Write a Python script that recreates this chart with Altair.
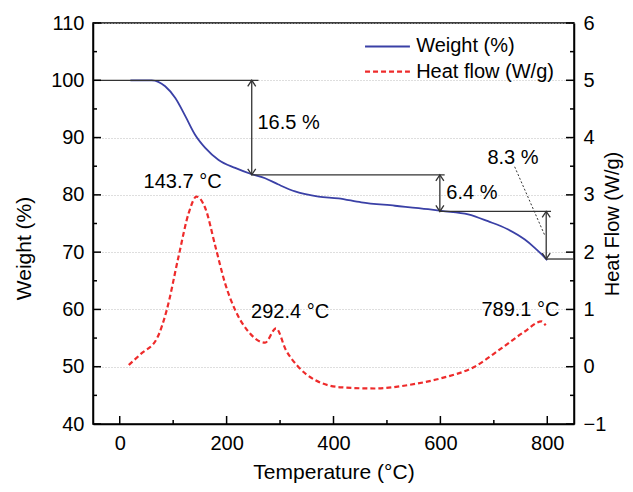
import altair as alt
import pandas as pd

# ---------------- data ----------------
w_temp = [20, 60, 85, 104, 123, 141, 160, 185, 216, 247, 272, 297, 328, 372, 409,
          452, 515, 577, 602, 652, 689, 726, 758, 776, 795, 800]
w_val = [100.0, 100.0, 98.95, 96.9, 93.7, 90.5, 88.2, 86.1, 84.7, 83.6, 82.9, 81.8,
         80.6, 79.7, 79.4, 78.7, 78.1, 77.5, 77.2, 76.6, 75.4, 74.0, 72.2, 70.8, 69.1, 68.6]

h_temp = [17, 39, 70, 88, 110, 129, 143.7, 160, 179, 197, 216, 241, 272, 292.4, 311,
          334, 365, 415, 477, 540, 602, 664, 714, 757, 789.1, 797]
h_val = [0.03, 0.22, 0.50, 0.99, 1.92, 2.68, 2.97, 2.77, 2.10, 1.46, 0.99, 0.61, 0.42,
         0.67, 0.29, 0.0, -0.23, -0.36, -0.38, -0.32, -0.20, 0.0, 0.32, 0.61, 0.79, 0.72]

x_labels = [0, 200, 400, 600, 800]
x_minor = [100, 300, 500, 700]
w_labels = [40, 50, 60, 70, 80, 90, 100, 110]
w_minor = [45, 55, 65, 75, 85, 95, 105]
h_labels = [-1, 0, 1, 2, 3, 4, 5, 6]
h_minor = [-0.5, 0.5, 1.5, 2.5, 3.5, 4.5, 5.5]

# step annotations (weight-loss levels)
step_level = [100, 83.5, 77.1, 68.8]
step_from = [-50, 247, 599, 798]
step_to = [259.6, 608, 807, 850]
arrow_t = [247, 599, 798]
arrow_top = [100, 83.5, 77.1]
arrow_bot = [83.5, 77.1, 68.8]

left_text = ["16.5 %", "6.4 %"]
left_text_t = [257.7, 611.2]
left_text_w = [92.6, 80.25]
mid_text = ["8.3 %", "143.7 °C", "292.4 °C", "789.1 °C"]
mid_text_t = [735.8, 117.6, 318.7, 749.8]
mid_text_w = [86.5, 82.3, 59.5, 59.9]

leader_t = [739, 795]
leader_w = [84.9, 73.0]

series = ["Weight (%)", "Heat flow (W/g)"]
legend_t = [459, 543]
legend_w = [105.9, 101.5]
legend_text_t = 554.6

# ---------------- style ----------------
FONT = "Liberation Sans"
BLUE = "#3a40a6"
RED = "#ee2b2b"
INK = "#333333"
W, H = 481, 401
FS = 20

xs = alt.Scale(domain=[-50, 850], nice=False, zero=False)
ys = alt.Scale(domain=[40, 110], nice=False, zero=False)
hs = alt.Scale(domain=[-1, 6], nice=False, zero=False)

df_w = pd.DataFrame({"T": w_temp, "W": w_val})
df_h = pd.DataFrame({"T": h_temp, "H": h_val})

x_axis = alt.Axis(title="Temperature (°C)", values=x_labels, ticks=False, grid=False,
                  labelPadding=9, labelFontSize=FS, titleFontSize=21, titlePadding=8,
                  domainColor="black", domainWidth=1.5, labelColor="black",
                  titleColor="black", titleFontWeight="normal", labelFont=FONT, titleFont=FONT)
w_axis = alt.Axis(title="Weight (%)", values=w_labels, ticks=False, grid=True,
                  gridDash=[1, 2], gridColor="#bdbdbd", gridWidth=1,
                  labelPadding=9, labelFontSize=FS, titleFontSize=21, titlePadding=16,
                  domainColor="black", domainWidth=1.5, labelColor="black",
                  titleColor="black", titleFontWeight="normal", labelFont=FONT, titleFont=FONT,
                  titleY=225)
h_axis = alt.Axis(title="Heat Flow (W/g)", orient="right", values=h_labels, format="d",
                  ticks=False, grid=False, labelPadding=9, labelFontSize=FS, titleFontSize=20,
                  titlePadding=17, titleAngle=270, domainColor="black", domainWidth=1.5,
                  labelColor="black", titleColor="black", titleFontWeight="normal",
                  labelFont=FONT, titleFont=FONT)


def X(field):
    return alt.X(field, type="quantitative", scale=xs)


def Y(field):
    return alt.Y(field, type="quantitative", scale=ys)


weight_line = alt.Chart(df_w).mark_line(color=BLUE, strokeWidth=1.8, interpolate="monotone").encode(
    x=alt.X("T:Q", scale=xs, axis=x_axis),
    y=alt.Y("W:Q", scale=ys, axis=w_axis),
)

steps = alt.Chart(pd.DataFrame({"a": step_from, "b": step_to, "y": step_level})).mark_rule(
    color=INK, strokeWidth=1.3).encode(x=X("a"), x2="b:Q", y=Y("y"))

arrows = alt.Chart(pd.DataFrame({"t": arrow_t, "y1": arrow_top, "y2": arrow_bot})).mark_rule(
    color=INK, strokeWidth=1.3).encode(x=X("t"), y=Y("y1"), y2="y2:Q")

heads_up = alt.Chart(pd.DataFrame({"t": arrow_t, "y": arrow_top})).mark_point(
    shape="M -1 1.5 L 0 0 L 1 1.5", size=64, filled=False, color=INK, strokeWidth=1.3,
    opacity=1).encode(x=X("t"), y=Y("y"))

heads_down = alt.Chart(pd.DataFrame({"t": arrow_t, "y": arrow_bot})).mark_point(
    shape="M -1 -1.5 L 0 0 L 1 -1.5", size=64, filled=False, color=INK, strokeWidth=1.3,
    opacity=1).encode(x=X("t"), y=Y("y"))

leader = alt.Chart(pd.DataFrame({"a": [leader_t[0]], "b": [leader_t[1]],
                                 "y1": [leader_w[0]], "y2": [leader_w[1]]})).mark_rule(
    color=INK, strokeWidth=1, strokeDash=[2, 2]).encode(x=X("a"), x2="b:Q", y=Y("y1"), y2="y2:Q")

txt_left = alt.Chart(pd.DataFrame({"t": left_text_t, "y": left_text_w, "s": left_text})).mark_text(
    font=FONT, fontSize=FS, align="left", baseline="middle", color="black").encode(
    x=X("t"), y=Y("y"), text="s:N")

txt_mid = alt.Chart(pd.DataFrame({"t": mid_text_t, "y": mid_text_w, "s": mid_text})).mark_text(
    font=FONT, fontSize=FS, align="center", baseline="middle", color="black").encode(
    x=X("t"), y=Y("y"), text="s:N")

# legend drawn in data space
leg_df = pd.DataFrame({"a": [legend_t[0]] * 2, "b": [legend_t[1]] * 2, "y": legend_w,
                       "s": series, "tt": [legend_text_t] * 2})
leg_blue = alt.Chart(leg_df.iloc[[0]]).mark_rule(color=BLUE, strokeWidth=1.8).encode(
    x=X("a"), x2="b:Q", y=Y("y"))
leg_red = alt.Chart(leg_df.iloc[[1]]).mark_rule(color=RED, strokeWidth=2.2, strokeDash=[5, 3]).encode(
    x=X("a"), x2="b:Q", y=Y("y"))
leg_txt = alt.Chart(leg_df).mark_text(font=FONT, fontSize=FS, align="left", baseline="middle",
                                      color="black").encode(x=X("tt"), y=Y("y"), text="s:N")

# inward ticks
xticks_major = alt.Chart(pd.DataFrame({"t": x_labels})).mark_rule(color="black", strokeWidth=1.5).encode(
    x=X("t"), y=alt.value(H), y2=alt.value(H - 8))
xticks_minor = alt.Chart(pd.DataFrame({"t": x_minor})).mark_rule(color="black", strokeWidth=1.5).encode(
    x=X("t"), y=alt.value(H), y2=alt.value(H - 4))
wticks_major = alt.Chart(pd.DataFrame({"v": w_labels})).mark_rule(color="black", strokeWidth=1.5).encode(
    y=Y("v"), x=alt.value(0), x2=alt.value(8))
wticks_minor = alt.Chart(pd.DataFrame({"v": w_minor})).mark_rule(color="black", strokeWidth=1.5).encode(
    y=Y("v"), x=alt.value(0), x2=alt.value(4))

left_group = alt.layer(weight_line, steps, arrows, heads_up, heads_down, leader,
                       txt_left, txt_mid, leg_blue, leg_red, leg_txt,
                       xticks_major, xticks_minor, wticks_major, wticks_minor)

heat_line = alt.Chart(df_h).mark_line(color=RED, strokeWidth=2.2, strokeDash=[5, 3],
                                      interpolate="monotone").encode(
    x=X("T"),
    y=alt.Y("H:Q", scale=hs, axis=h_axis))
hticks_major = alt.Chart(pd.DataFrame({"v": h_labels})).mark_rule(color="black", strokeWidth=1.5).encode(
    y=alt.Y("v:Q", scale=hs), x=alt.value(W), x2=alt.value(W - 8))
hticks_minor = alt.Chart(pd.DataFrame({"v": h_minor})).mark_rule(color="black", strokeWidth=1.5).encode(
    y=alt.Y("v:Q", scale=hs), x=alt.value(W), x2=alt.value(W - 4))
right_group = alt.layer(heat_line, hticks_major, hticks_minor)

chart = alt.layer(left_group, right_group).resolve_scale(y="independent").properties(
    width=W, height=H,
    padding={"left": 85, "top": 15, "right": 51, "bottom": 59},
    autosize=alt.AutoSizeParams(type="none"),
    background="white",
).configure_view(stroke="black", strokeWidth=1.5)

chart.save("out.html", embed_options={"renderer": "svg", "actions": False})
